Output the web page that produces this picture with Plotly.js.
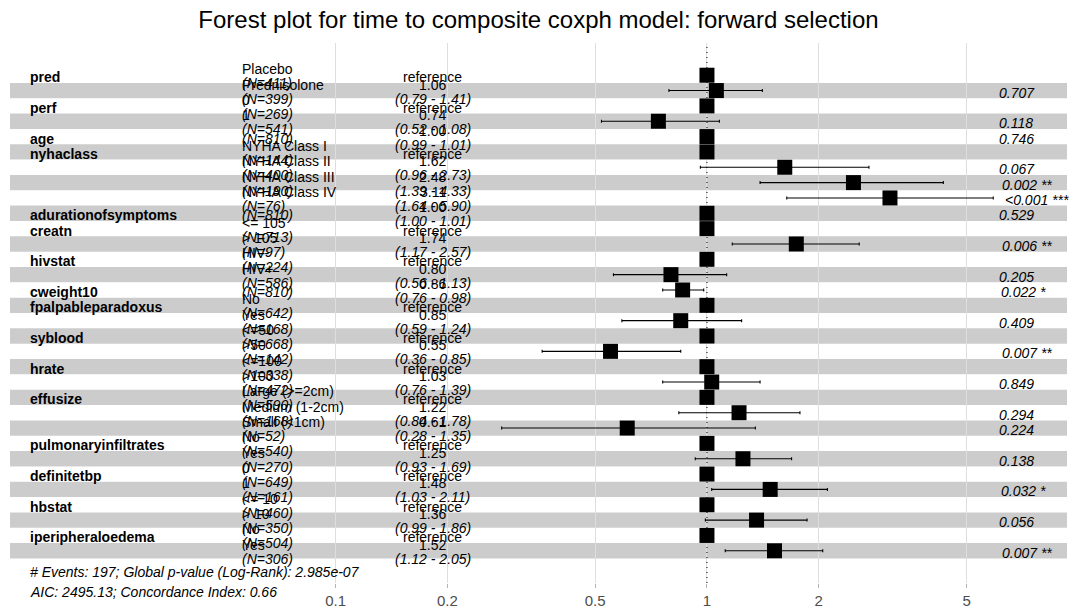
<!DOCTYPE html>
<html>
<head>
<meta charset="utf-8">
<script src="https://cdn.plot.ly/plotly-3.0.1.min.js"></script>
<style>
  html, body { margin: 0; padding: 0; background: #ffffff; }
  #chart { width: 1070px; height: 608px; }
</style>
</head>
<body>
<div id="chart"></div>
<script>
// One entry per row of the forest plot, top to bottom.
const variables = ["pred", "", "perf", "", "age", "nyhaclass", "", "", "", "adurationofsymptoms",
  "creatn", "", "hivstat", "", "cweight10", "fpalpableparadoxus", "", "syblood", "", "hrate", "",
  "effusize", "", "", "pulmonaryinfiltrates", "", "definitetbp", "", "hbstat", "", "iperipheraloedema", ""];
const levels = ["Placebo", "Prednisolone", "0", "1", "", "NYHA Class I", "NYHA Class II", "NYHA Class III",
  "NYHA Class IV", "", "<= 105", "> 105", "HIV-", "HIV+", "", "No", "Yes", "<=50", ">50", "<=100", ">100",
  "Large (>=2cm)", "Medium (1-2cm)", "Small (<1cm)", "No", "Yes", "0", "1", "<= 10", "> 10", "No", "Yes"];
const counts = [411, 399, 269, 541, 810, 144, 400, 190, 76, 810, 713, 97, 224, 586, 810, 642, 168, 668, 142,
  338, 472, 590, 168, 52, 540, 270, 649, 161, 460, 350, 504, 306];
// null = reference level (hazard ratio 1)
const hazardRatios = [null, 1.06, null, 0.74, 1.00, null, 1.62, 2.48, 3.11, 1.00, null, 1.74, null, 0.80, 0.86,
  null, 0.85, null, 0.55, null, 1.03, null, 1.22, 0.61, null, 1.25, null, 1.48, null, 1.36, null, 1.52];
const ciLow = [null, 0.79, null, 0.52, 0.99, null, 0.96, 1.39, 1.64, 1.00, null, 1.17, null, 0.56, 0.76,
  null, 0.59, null, 0.36, null, 0.76, null, 0.84, 0.28, null, 0.93, null, 1.03, null, 0.99, null, 1.12];
const ciHigh = [null, 1.41, null, 1.08, 1.01, null, 2.73, 4.33, 5.90, 1.01, null, 2.57, null, 1.13, 0.98,
  null, 1.24, null, 0.85, null, 1.39, null, 1.78, 1.35, null, 1.69, null, 2.11, null, 1.86, null, 2.05];
const pValues = ["", "0.707", "", "0.118", "0.746", "", "0.067", "0.002", "<0.001", "0.529", "", "0.006", "",
  "0.205", "0.022", "", "0.409", "", "0.007", "", "0.849", "", "0.294", "0.224", "", "0.138", "", "0.032", "",
  "0.056", "", "0.007"];
const tickValues = [0.1, 0.2, 0.5, 1, 2, 5];
const tickLabels = ["0.1", "0.2", "0.5", "1", "2", "5"];
const footerLines = [
  "# Events: 197; Global p-value (Log-Rank): 2.985e-07",
  "AIC: 2495.13; Concordance Index: 0.66"
];
const chartTitle = "Forest plot for time to composite coxph model: forward selection";

const FONT = "'Liberation Sans', Arial, Helvetica, sans-serif";
const FS = 14;

const n = variables.length;
const pos = variables.map((_, i) => n - i);           // row 1 at the bottom
const hr = hazardRatios.map(v => (v === null ? 1 : v));

// column layout on the natural-log scale
const lnLows = ciLow.filter(v => v !== null).map(Math.log);
const lnHighs = ciHigh.filter(v => v !== null).map(Math.log);
const rangeb = [Math.min(...lnLows), Math.max(...lnHighs)];
const spanb = rangeb[1] - rangeb[0];
const rangeplot = [rangeb[0] - spanb, rangeb[1] + 0.15 * spanb];
const widthPlot = rangeplot[1] - rangeplot[0];
const colVar = rangeplot[0] + 0.02 * widthPlot;
const colLevel = rangeplot[0] + 0.22 * widthPlot;
const colEst = rangeplot[0] + 0.40 * widthPlot;
const colP = rangeb[1];
const toLog10 = v => v / Math.LN10;

function stars(p) {
  if (!p) return "";
  const v = p.startsWith("<") ? parseFloat(p.slice(1)) * 0.99 : parseFloat(p);
  if (v < 0.001) return " ***";
  if (v < 0.01) return " **";
  if (v < 0.05) return " *";
  return "";
}

const measureCtx = document.createElement("canvas").getContext("2d");
function textWidth(txt, style) {
  measureCtx.font = style + " " + FS + "px " + FONT;
  return measureCtx.measureText(txt).width;
}

const SHIFT_UP = 6;      // text sitting just above the row line
const SHIFT_DOWN = -8;   // text sitting just below the row line
const SHIFT_MID = -2;
const LEFT_PAD = -2;     // cancel the annotation box inset for left-aligned text

const annotations = [];
function addText(x, y, text, opts) {
  annotations.push(Object.assign({
    xref: "x", yref: "y", x: toLog10(x), y: y, text: text, showarrow: false,
    xanchor: "left", yanchor: "middle", borderpad: 0, xshift: LEFT_PAD,
    font: { family: FONT, size: FS, color: "#000000" }
  }, opts));
}

for (let i = 0; i < n; i++) {
  const y = pos[i];
  if (variables[i]) {
    addText(colVar, y, "<b>" + variables[i] + "</b>", { yshift: SHIFT_MID });
  }
  if (levels[i]) {
    addText(colLevel, y, levels[i], { yshift: SHIFT_UP });
    addText(colLevel, y, "<i>(N=" + counts[i] + ")</i>", { yshift: SHIFT_DOWN });
  } else {
    addText(colLevel, y, "<i>(N=" + counts[i] + ")</i>", { yshift: SHIFT_MID });
  }
  if (hazardRatios[i] === null) {
    addText(colEst, y, "reference", { xanchor: "center", xshift: 0, yshift: SHIFT_MID });
  } else {
    addText(colEst, y, hazardRatios[i].toFixed(2), { xanchor: "center", xshift: 0, yshift: SHIFT_UP });
    addText(colEst, y, "<i>(" + ciLow[i].toFixed(2) + " - " + ciHigh[i].toFixed(2) + ")</i>",
      { xanchor: "center", xshift: 0, yshift: SHIFT_DOWN });
  }
  if (pValues[i]) {
    const label = pValues[i] + stars(pValues[i]);
    addText(colP, y, "<i>" + label + "</i>",
      { xshift: LEFT_PAD + 0.2 * textWidth(label, "italic"), yshift: SHIFT_MID });
  }
}

footerLines.forEach((line, k) => {
  addText(colVar, 0.5, "<i>" + line + "</i>", { yshift: -14 - 20 * k });
});

// alternating row bands
const shapes = pos.map(p => ({
  type: "rect", xref: "paper", yref: "y", x0: 0, x1: 1, y0: p - 0.5, y1: p + 0.5,
  fillcolor: p % 2 === 1 ? "rgba(0,0,0,0.2)" : "rgba(255,255,255,0.2)",
  line: { width: 0 }, layer: "between"
}));

const ciRows = hazardRatios.map(v => v !== null);
const traces = [
  {
    type: "scatter", mode: "markers",
    x: hr, y: pos,
    marker: { symbol: "square", size: 15, color: "#000000" },
    error_x: {
      type: "data", symmetric: false,
      array: hr.map((v, i) => (ciRows[i] ? ciHigh[i] - v : 0)),
      arrayminus: hr.map((v, i) => (ciRows[i] ? v - ciLow[i] : 0)),
      color: "#000000", thickness: 1.1, width: 1.5
    },
    hoverinfo: "skip", showlegend: false
  },
  {
    // reference line at hazard ratio 1
    type: "scatter", mode: "lines",
    x: [1, 1], y: [-1.1, n + 2.1],
    line: { color: "#000000", width: 1, dash: "1px,4px" },
    hoverinfo: "skip", showlegend: false
  }
];

const layout = {
  width: 1070, height: 608,
  margin: { l: 10, r: 3, t: 43, b: 25, pad: 0 },
  paper_bgcolor: "#ffffff", plot_bgcolor: "#ffffff",
  title: {
    text: chartTitle, x: 0.5, xref: "paper", xanchor: "center",
    y: 1 - 20 / 608, yref: "container", yanchor: "middle",
    font: { family: FONT, size: 24, color: "#000000" }
  },
  xaxis: {
    type: "log",
    range: [toLog10(rangeplot[0]), toLog10(rangeplot[1])],
    tickmode: "array", tickvals: tickValues, ticktext: tickLabels,
    showgrid: true, gridcolor: "#DEDEDE", gridwidth: 1,
    zeroline: false, showline: false,
    ticks: "outside", ticklen: 4, tickcolor: "#B3B3B3", tickwidth: 1,
    tickfont: { family: FONT, size: 15, color: "#4D4D4D" }
  },
  yaxis: {
    range: [0.5 - 0.05 * n, n + 0.5 + 0.05 * n],
    visible: false, showgrid: false, zeroline: false, fixedrange: true
  },
  shapes: shapes,
  annotations: annotations,
  showlegend: false
};

Plotly.newPlot("chart", traces, layout, { displayModeBar: false, staticPlot: true });
</script>
</body>
</html>
